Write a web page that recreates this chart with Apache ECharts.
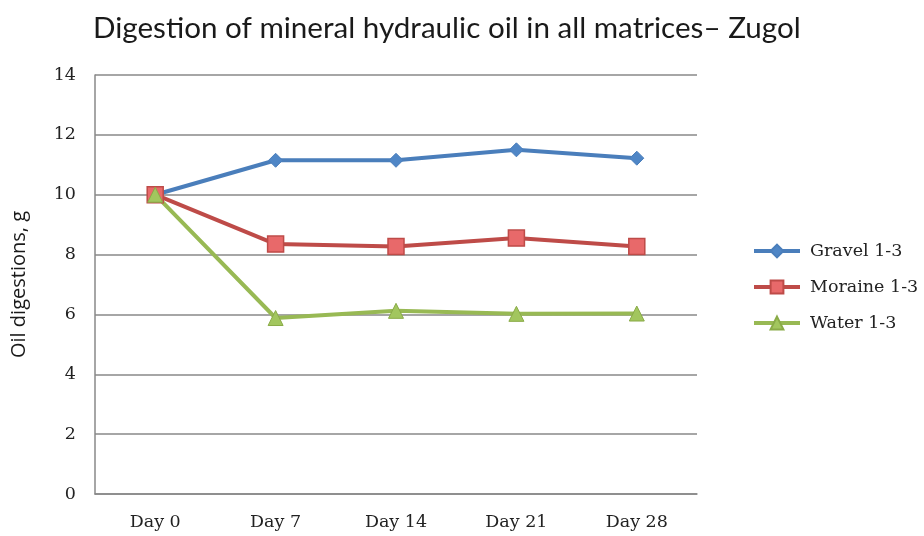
<!DOCTYPE html>
<html><head><meta charset="utf-8">
<script src="https://cdn.jsdelivr.net/npm/echarts@6/dist/echarts.min.js"></script>
<style>html,body{margin:0;padding:0;background:#fff}#c{width:924px;height:536px}</style>
</head><body><div id="c"></div>
<script>
const categories = ['Day 0', 'Day 7', 'Day 14', 'Day 21', 'Day 28'];
const gravel = [10, 11.15, 11.15, 11.5, 11.22];
const moraine = [10, 8.35, 8.27, 8.55, 8.27];
const water = [10, 5.88, 6.12, 6.02, 6.03];
const yTicks = [0, 2, 4, 6, 8, 10, 12, 14];

const chart = echarts.init(document.getElementById('c'));
const serif = '"DejaVu Serif", "Liberation Serif", serif';
chart.setOption({
  animation: false,
  title: {
    text: 'Digestion of mineral hydraulic oil in all matrices\u2013 Zugol',
    left: 88, top: 8,
    textStyle: { fontFamily: 'Lato, "Open Sans", sans-serif', fontWeight: 'normal', fontSize: 29.6, color: '#1a1a1a' }
  },
  grid: { left: 95, right: 227, top: 75, bottom: 42 },
  legend: {
    orient: 'vertical', left: 747, top: 237, itemGap: 18,
    itemWidth: 46, itemHeight: 16,
    lineStyle: { width: 4 },
    textStyle: { fontFamily: serif, fontSize: 17.5, color: '#222', padding: [0, 0, 0, 5] },
    data: ['Gravel 1-3', 'Moraine 1-3', 'Water 1-3']
  },
  xAxis: {
    type: 'category', data: categories, boundaryGap: true,
    axisLine: { lineStyle: { color: '#888', width: 1.5 } },
    axisTick: { show: false },
    axisLabel: { fontFamily: serif, fontSize: 17.5, color: '#222', margin: 19 }
  },
  yAxis: {
    type: 'value', min: yTicks[0], max: yTicks[yTicks.length - 1], interval: 2,
    name: 'Oil digestions, g', nameLocation: 'middle', nameGap: 66,
    nameTextStyle: { fontFamily: '"Open Sans", sans-serif', fontSize: 20, color: '#1a1a1a' },
    axisLine: { show: true, lineStyle: { color: '#888', width: 1.5 } },
    axisTick: { show: false },
    axisLabel: { fontFamily: serif, fontSize: 17.5, color: '#222', margin: 19 },
    splitLine: { lineStyle: { color: '#888', width: 1.5 } }
  },
  series: [
    { name: 'Gravel 1-3', type: 'line', data: gravel, symbol: 'diamond', symbolSize: 14,
      lineStyle: { color: '#4a7ebb', width: 4 }, itemStyle: { color: '#4f86c6', borderColor: '#4a7ebb', borderWidth: 1 } },
    { name: 'Moraine 1-3', type: 'line', data: moraine, symbol: 'rect', symbolSize: 16,
      lineStyle: { color: '#be4b48', width: 4 }, itemStyle: { color: '#e8696a', borderColor: '#be4b48', borderWidth: 1.5 } },
    { name: 'Water 1-3', type: 'line', data: water, symbol: 'triangle', symbolSize: 15,
      lineStyle: { color: '#98b954', width: 4 }, itemStyle: { color: '#a2c65e', borderColor: '#8aab48', borderWidth: 1 } }
  ]
});
</script></body></html>
